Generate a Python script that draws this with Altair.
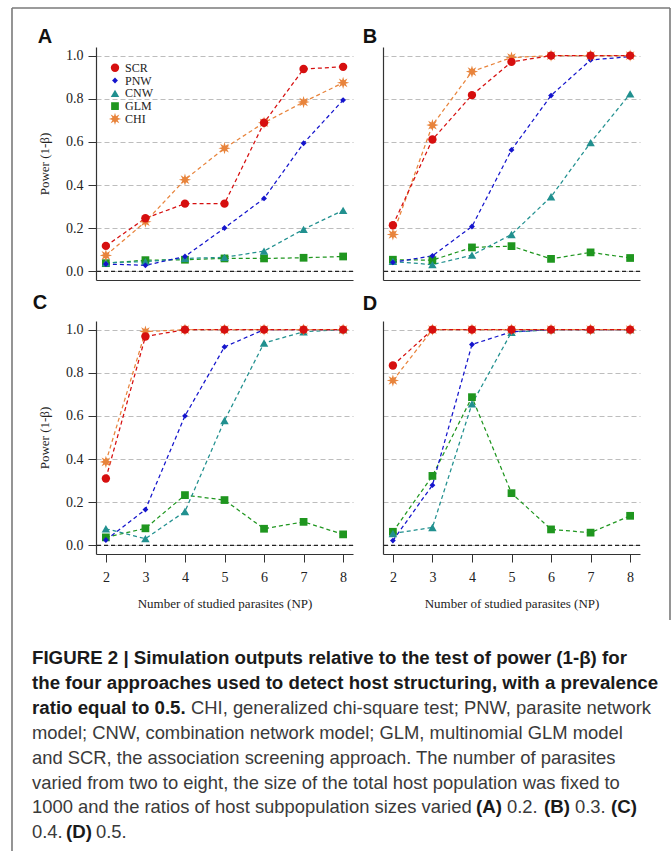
import math
import altair as alt
import pandas as pd

# ---------------- data ----------------
NP = [2, 3, 4, 5, 6, 7, 8]
SERIES = ["SCR", "PNW", "CNW", "GLM", "CHI"]
Y_TICKS = [0.0, 0.2, 0.4, 0.6, 0.8, 1.0]

A_SCR = [0.118, 0.246, 0.314, 0.314, 0.689, 0.938, 0.948]
A_PNW = [0.034, 0.028, 0.069, 0.201, 0.338, 0.594, 0.794]
A_CNW = [0.040, 0.045, 0.060, 0.065, 0.094, 0.195, 0.283]
A_GLM = [0.038, 0.052, 0.054, 0.060, 0.060, 0.063, 0.069]
A_CHI = [0.074, 0.230, 0.425, 0.571, 0.689, 0.785, 0.874]

B_SCR = [0.214, 0.611, 0.817, 0.971, 1.0, 1.0, 1.0]
B_PNW = [0.042, 0.072, 0.208, 0.563, 0.815, 0.980, 0.995]
B_CNW = [0.046, 0.031, 0.075, 0.171, 0.346, 0.597, 0.823]
B_GLM = [0.054, 0.052, 0.111, 0.117, 0.058, 0.088, 0.062]
B_CHI = [0.171, 0.678, 0.926, 0.991, 1.0, 1.0, 1.0]

C_SCR = [0.310, 0.968, 1.0, 1.0, 1.0, 1.0, 1.0]
C_PNW = [0.025, 0.166, 0.600, 0.920, 1.0, 1.0, 1.0]
C_CNW = [0.077, 0.031, 0.157, 0.579, 0.938, 0.990, 1.0]
C_GLM = [0.037, 0.079, 0.233, 0.210, 0.077, 0.109, 0.051]
C_CHI = [0.387, 0.991, 1.0, 1.0, 1.0, 1.0, 1.0]

D_SCR = [0.834, 1.0, 1.0, 1.0, 1.0, 1.0, 1.0]
D_PNW = [0.022, 0.279, 0.931, 0.990, 1.0, 1.0, 1.0]
D_CNW = [0.055, 0.083, 0.656, 0.988, 1.0, 1.0, 1.0]
D_GLM = [0.063, 0.322, 0.687, 0.242, 0.074, 0.059, 0.137]
D_CHI = [0.764, 1.0, 1.0, 1.0, 1.0, 1.0, 1.0]

CAPTION = [
    [("FIGURE 2 | Simulation outputs relative to the test of power (1-β) for", True)],
    [("the four approaches used to detect host structuring, with a prevalence", True)],
    [("ratio equal to 0.5.", True), ("CHI, generalized chi-square test; PNW, parasite network", False)],
    [("model; CNW, combination network model; GLM, multinomial GLM model", False)],
    [("and SCR, the association screening approach. The number of parasites", False)],
    [("varied from two to eight, the size of the total host population was fixed to", False)],
    [("1000 and the ratios of host subpopulation sizes varied", False), ("(A)", True),
     ("0.2.", False), ("(B)", True), ("0.3.", False), ("(C)", True)],
    [("0.4.", False), ("(D)", True), ("0.5.", False)],
]

# ---------------- layout / style ----------------
# x start (px, relative to caption origin) of each caption segment
CAP_X = [[-64], [-64], [-64, 95], [-64], [-64], [-64],
         [-64, 380, 411, 448, 479, 515], [-64, -30, 0]]
CAP_Y0, CAP_DY = 63, 24.9
BOLD_SIZE, NORM_SIZE = 18.7, 18.4

COLORS = ["#d60f0f", "#1414cc", "#21908f", "#1f961f", "#e8843c"]


def star_path(n=8, r_out=1.0, r_in=0.45):
    pts = []
    for i in range(2 * n):
        r = r_out if i % 2 == 0 else r_in
        a = math.pi * i / n
        pts.append(f"{r * math.sin(a):.3f},{-r * math.cos(a):.3f}")
    return "M" + "L".join(pts) + "Z"


SHAPES = ["circle", "diamond", "triangle-up", "square", star_path()]
SIZES = {"SCR": 70, "PNW": 34, "CNW": 72, "GLM": 60, "CHI": 150}
SERIF = "Liberation Serif"
SANS = "Liberation Sans"
CAPFONT = "Liberation Sans Narrow, Arial Narrow, Liberation Sans"

W, H = 257, 233
XS = alt.Scale(domain=[1.75, 8.25], nice=False, zero=False)
YS = alt.Scale(domain=[-0.04, 1.04], nice=False, zero=False)
COLOR_SCALE = alt.Scale(domain=SERIES, range=COLORS)
SHAPE_SCALE = alt.Scale(domain=SERIES, range=SHAPES)

LEG_X, LEG_Y0, LEG_DY = 19, 20.7, 12.8


def panel(letter, data, show_x, show_y, letter_pos, legend):
    rows = []
    for s in ["GLM", "CNW", "PNW", "CHI", "SCR"]:  # drawing order (SCR on top)
        for x, v in zip(NP, data[s]):
            rows.append({"np": x, "power": v, "method": s, "sz": SIZES[s]})
    df = pd.DataFrame(rows)

    ytitle = "Power (1-β)" if show_y else ""
    xaxis = alt.Axis(values=NP, labels=show_x, ticks=show_x, grid=False,
                     title="Number of studied parasites (NP)" if show_x else "",
                     tickSize=8, labelPadding=8, titlePadding=13)
    yaxis = alt.Axis(values=Y_TICKS, format=".1f", grid=True, labels=show_y,
                     ticks=show_y, title=ytitle,
                     tickSize=8, labelPadding=5, titlePadding=14)

    color = alt.Color("method:N", scale=COLOR_SCALE, legend=None)
    shape = alt.Shape("method:N", scale=SHAPE_SCALE, legend=None)
    size = alt.Size("sz:Q", scale=None, legend=None)

    base = alt.Chart(df)
    zero = alt.Chart(pd.DataFrame({"z": [0.0]})).mark_rule(
        color="#222", strokeDash=[4, 3], strokeWidth=1.3
    ).encode(y=alt.Y("z:Q", scale=YS, axis=yaxis, title=ytitle))
    lines = base.mark_line(strokeDash=[4, 3], strokeWidth=1.25).encode(
        x=alt.X("np:Q", scale=XS, axis=xaxis),
        y=alt.Y("power:Q", scale=YS, axis=yaxis, title=ytitle),
        color=color,
        detail="method:N",
    )
    points = base.mark_point(filled=True, opacity=1).encode(
        x=alt.X("np:Q", scale=XS), y=alt.Y("power:Q", scale=YS, title=ytitle),
        color=color, shape=shape, size=size,
    )
    lab = alt.Chart(pd.DataFrame({"t": [letter]})).mark_text(
        font=SANS, fontWeight="bold", fontSize=20, color="#111",
        align="center", baseline="middle",
    ).encode(text="t:N", x=alt.value(letter_pos[0]), y=alt.value(letter_pos[1]))
    layers = [zero, lines, points, lab]

    if legend:
        leg_df = pd.DataFrame({"method": SERIES, "idx": list(range(len(SERIES))),
                               "sz": [SIZES[s] for s in SERIES]})
        leg_base = alt.Chart(leg_df).transform_calculate(
            ly=f"{LEG_Y0} + datum.idx * {LEG_DY}"
        )
        leg_pts = leg_base.mark_point(filled=True, opacity=1).encode(
            x=alt.value(LEG_X), y=alt.Y("ly:Q", scale=None),
            color=color, shape=shape, size=size,
        )
        leg_txt = leg_base.mark_text(
            font=SERIF, fontSize=12, color="#222", align="left", baseline="middle",
        ).encode(x=alt.value(LEG_X + 10), y=alt.Y("ly:Q", scale=None), text="method:N")
        layers += [leg_pts, leg_txt]

    return alt.layer(*layers).properties(width=W, height=H)


def series(prefix):
    g = globals()
    return {s: g[f"{prefix}_{s}"] for s in SERIES}


pA = panel("A", series("A"), False, True, (-51, -10), True)
pB = panel("B", series("B"), False, False, (-13, -10), False)
pC = panel("C", series("C"), True, True, (-56, -18), False)
pD = panel("D", series("D"), True, False, (-13, -17), False)

# caption
cap_rows = []
for i, (segs, xs) in enumerate(zip(CAPTION, CAP_X)):
    for (txt, bold), x in zip(segs, xs):
        cap_rows.append({"text": txt, "bold": bold, "x": x, "y": CAP_Y0 + i * CAP_DY})
cap_df = pd.DataFrame(cap_rows)

cap_base = alt.Chart(cap_df)
cap_bold = cap_base.transform_filter("datum.bold").mark_text(
    font=CAPFONT, fontWeight="bold", fontSize=BOLD_SIZE, color="#1a1a1a",
    align="left", baseline="middle",
).encode(text="text:N", x=alt.X("x:Q", scale=None), y=alt.Y("y:Q", scale=None))
cap_norm = cap_base.transform_filter("!datum.bold").mark_text(
    font=CAPFONT, fontSize=NORM_SIZE, color="#3a3a3a",
    align="left", baseline="middle",
).encode(text="text:N", x=alt.X("x:Q", scale=None), y=alt.Y("y:Q", scale=None))

one = pd.DataFrame({"a": [0]})
frame_style = dict(color="#7a7a7a", strokeWidth=1.6)
f_left = alt.Chart(one).mark_rule(**frame_style).encode(
    x=alt.value(-84), y=alt.value(-587), y2=alt.value(262))
f_top = alt.Chart(one).mark_rule(**frame_style).encode(
    x=alt.value(-84), x2=alt.value(574), y=alt.value(-587))
f_right = alt.Chart(one).mark_rule(**frame_style).encode(
    x=alt.value(574), y=alt.value(-587), y2=alt.value(25))

caption = alt.layer(cap_bold, cap_norm, f_left, f_top, f_right).properties(width=W, height=30)

chart = alt.concat(
    pA, pB, pC, pD, caption, columns=2,
    spacing={"row": 41, "column": 30}, bounds="flush",
).properties(
    padding={"left": 11, "top": 7, "right": 0, "bottom": 0},
    background="white",
).configure_view(stroke=None).configure_axis(
    labelFont=SERIF, labelFontSize=14, labelColor="#222",
    titleFont=SERIF, titleFontSize=13, titleFontWeight="normal", titleColor="#222",
    domainColor="#333", domainWidth=1.2, tickColor="#333",
    gridColor="#bdbdbd", gridDash=[5, 3], gridWidth=1.1,
)

chart.save("out.html", embed_options={"renderer": "svg", "actions": False})
